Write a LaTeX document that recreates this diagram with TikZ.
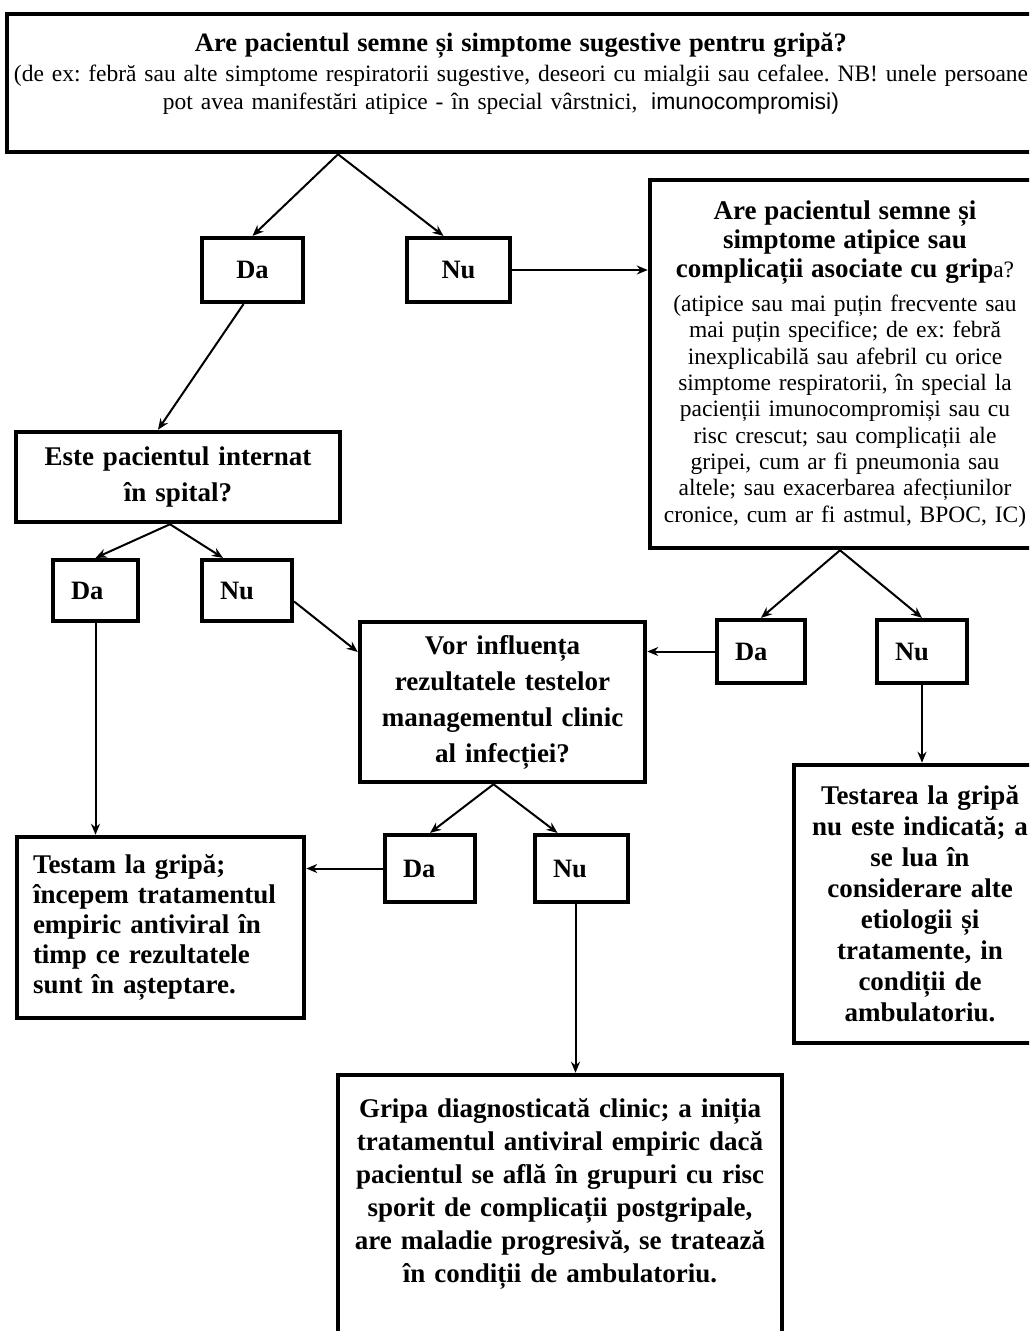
\documentclass[tikz,border=0pt]{standalone}
\usepackage{fontspec}
\setmainfont{Liberation Serif}
\newfontfamily\arialfont{Liberation Sans}
\usetikzlibrary{arrows.meta}
\frenchspacing
\newcommand\qfont{\bfseries\fontsize{27}{29}\selectfont}

\tikzset{
  box/.style={draw, line width=4.5pt, inner sep=0pt, align=center, font=\bfseries\fontsize{27}{36}\selectfont},
  yn/.style={draw, line width=4.2pt, inner xsep=18pt, inner ysep=0pt, align=left, font=\bfseries\fontsize{26.5}{30}\selectfont},
  arr/.style={line width=2pt, -{Stealth[length=11pt,width=9pt]}}
}

\begin{document}
\begin{tikzpicture}[x=1pt, y=-1pt]
\useasboundingbox (0,0) rectangle (1029,1331);
\clip (0,0) rectangle (1029,1331);

\node[box, text width=1028pt, minimum height=138pt, font=\mdseries\fontsize{23.5}{28}\selectfont] (q1) at (521,83)
  {{\bfseries\fontsize{26.5}{28}\selectfont Are pacientul semne și simptome sugestive pentru gripă?}\\[2pt]
   (de ex: febră sau alte simptome respiratorii sugestive, deseori cu mialgii sau cefalee. NB! unele persoane\\
   pot avea manifestări atipice - în special vârstnici, \hspace{6pt}{\arialfont\fontsize{23}{28}\selectfont imunocompromisi)}\rule{40pt}{0pt}\\[-4pt]\mbox{}};
\node[box, text width=390pt, minimum height=368pt, font=\mdseries\fontsize{23.5}{26.3}\selectfont] (q2) at (845,364)
  {{\qfont Are pacientul semne și}\\[2.7pt]
   {\qfont simptome atipice sau}\\[2.7pt]
   {\qfont complicații asociate cu grip}a?\\[7.7pt]
   (atipice sau mai puțin frecvente sau\\ mai puțin specifice; de ex: febră\\ inexplicabilă sau afebril cu orice\\ simptome respiratorii, în special la\\ pacienții imunocompromiși sau cu\\ risc crescut; sau complicații ale\\ gripei, cum ar fi pneumonia sau\\ altele; sau exacerbarea afecțiunilor\\ cronice, cum ar fi astmul, BPOC, IC)};
\node[box, text width=324pt, minimum height=90pt] (q3) at (178,477) {Este pacientul internat\\ în spital?};
\node[box, text width=285pt, minimum height=160pt] (q4) at (502.5,702) {Vor influența\\ rezultatele testelor\\ managementul clinic\\ al infecției?};

\node[box, text width=255pt, inner xsep=16pt, align=left, minimum height=181pt, font=\bfseries\fontsize{27}{30}\selectfont] (r1) at (160.5,927.5)
  {Testam la gripă;\\ începem tratamentul\\ empiric antiviral în\\ timp ce rezultatele\\ sunt în așteptare.};
\node[box, text width=252pt, minimum height=278pt, font=\bfseries\fontsize{27}{31}\selectfont] (r2) at (920,904)
  {Testarea la gripă\\ nu este indicată; a\\ se lua în\\ considerare alte\\ etiologii și\\ tratamente, in\\ condiții de\\ ambulatoriu.};
\node[box, text width=444pt, minimum height=270pt, font=\bfseries\fontsize{27}{33}\selectfont] (r3) at (560,1210)
  {Gripa diagnosticată clinic; a iniția\\ tratamentul antiviral empiric dacă\\ pacientul se află în grupuri cu risc\\ sporit de complicații postgripale,\\ are maladie progresivă, se tratează\\ în condiții de ambulatoriu.\\[7pt]\mbox{}};

\node[yn, align=center, text width=65pt, minimum height=64pt] (da1) at (252.5,270) {Da};
\node[yn, align=center, text width=67pt, minimum height=64pt] (nu1) at (458.5,270) {Nu};
\node[yn, text width=49pt, minimum height=61pt] (da2) at (95.5,590.5) {Da};
\node[yn, text width=54pt, minimum height=61pt] (nu2) at (247,590.5) {Nu};
\node[yn, text width=52pt, minimum height=63pt] (da3) at (761,651.5) {Da};
\node[yn, text width=54pt, minimum height=63pt] (nu3) at (922,651.5) {Nu};
\node[yn, text width=54pt, minimum height=67pt] (da4) at (430,868.5) {Da};
\node[yn, text width=57pt, minimum height=67pt] (nu4) at (581.5,868.5) {Nu};

\draw[arr] ([xshift=-183pt]q1.south) -- (da1.north);
\draw[arr] ([xshift=-183pt]q1.south) -- ([xshift=-15pt]nu1.north);
\draw[arr] (nu1.east) -- (nu1.east -| q2.west);
\draw[arr] ([xshift=-9pt]da1.south) -- ([xshift=-20pt]q3.north);
\draw[arr] ([xshift=-8pt]q3.south) -- (da2.north);
\draw[arr] ([xshift=-8pt]q3.south) -- ([xshift=-24pt]nu2.north);
\draw[arr] ([yshift=-11pt]nu2.east) -- ([yshift=50pt]q4.west);
\draw[arr] (da2.south) -- (da2.south |- r1.north);
\draw[arr] ([xshift=-5pt]q2.south) -- (da3.north);
\draw[arr] ([xshift=-5pt]q2.south) -- (nu3.north);
\draw[arr] (da3.west) -- (da3.west -| q4.east);
\draw[arr] (nu3.south) -- (nu3.south |- r2.north);
\draw[arr] ([xshift=-9pt]q4.south) -- (da4.north);
\draw[arr] ([xshift=-9pt]q4.south) -- ([xshift=-24pt]nu4.north);
\draw[arr] (da4.west) -- (da4.west -| r1.east);
\draw[arr] ([xshift=-6pt]nu4.south) -- ([xshift=-6pt]nu4.south |- r3.north);
\end{tikzpicture}
\end{document}
